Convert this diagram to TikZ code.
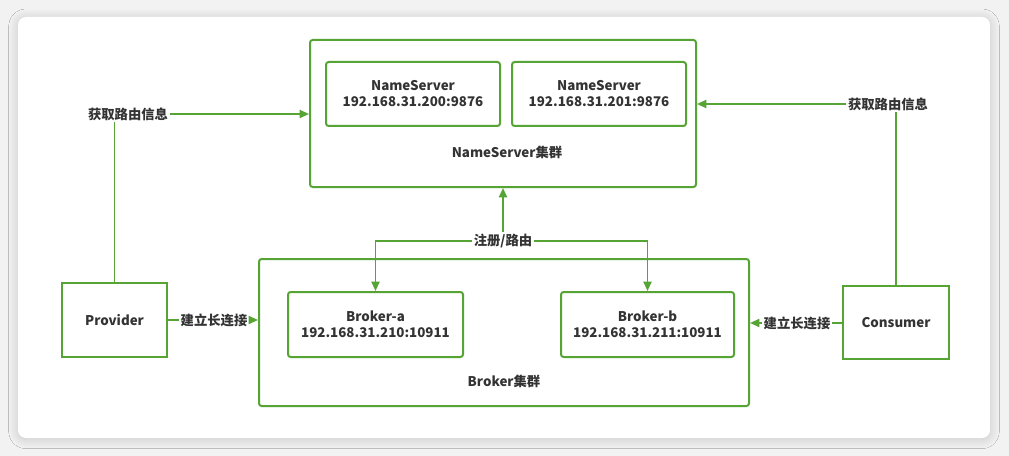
\documentclass[tikz,border=0pt]{standalone}
\usepackage{fontspec}
\setmainfont{Noto Sans CJK SC}
\usetikzlibrary{arrows.meta,shadows.blur}
\definecolor{gline}{RGB}{86,164,52}
\definecolor{txt}{RGB}{51,51,51}
\begin{document}
\begin{tikzpicture}[x=0.75pt,y=-0.75pt,
  lbl/.style={font=\bfseries\fontsize{10pt}{12pt}\selectfont,text=txt,align=center},
  box/.style={draw=gline,line width=1.5pt,rounded corners=2pt,lbl,inner sep=0pt},
  sq/.style={box,rounded corners=0pt},
  tag/.style={lbl,fill=white,inner sep=1pt},
  conn/.style={draw=gline,line width=1.4pt},
  arr/.style={conn,-{Triangle[length=7pt,width=6pt]}}]
\useasboundingbox (0,0) rectangle (1009,456);
\fill[black!5] (0,0) rectangle (1009,456);
\fill[white,rounded corners=6pt,blur shadow={shadow blur steps=12,shadow xshift=0pt,shadow yshift=-1pt,shadow blur radius=7pt,shadow opacity=18}] (18,17) rectangle (990,438);
% clusters
\node[box,minimum width=289.5pt,minimum height=110.25pt] (nsc) at (503,113.5) {};
\node[lbl] (nsl) at (507,152) {NameServer集群};
\node[box,minimum width=367.5pt,minimum height=110.25pt] (bc) at (504,332.5) {};
\node[lbl] (bl) at (504,381) {Broker集群};
% inner
\node[box,minimum width=130.5pt,minimum height=48pt] (ns1) at (413,94) {NameServer\\192.168.31.200:9876};
\node[box,minimum width=130.5pt,minimum height=48pt] (ns2) at (599,94) {NameServer\\192.168.31.201:9876};
\node[box,minimum width=131.25pt,minimum height=48.75pt] (ba) at (375.5,324.5) {Broker-a\\192.168.31.210:10911};
\node[box,minimum width=129.75pt,minimum height=48.75pt] (bb) at (647.5,324.5) {Broker-b\\192.168.31.211:10911};
% outer nodes
\node[sq,minimum width=78.75pt,minimum height=55.5pt] (prov) at (114.5,320) {Provider};
\node[sq,minimum width=79.5pt,minimum height=54.75pt] (cons) at (896,322.5) {Consumer};
% connectors
\node[tag] (l1) at (128,114) {获取路由信息};
\node[tag] (r1) at (888,104) {获取路由信息};
\draw[conn] (prov.north) -- (prov.north|-l1.south);
\draw[arr] (l1.east) -- (nsc.west|-l1.east);
\draw[conn] (cons.north) -- (cons.north|-r1.south);
\draw[arr] (r1.west) -- (nsc.east|-r1.west);
\node[tag] (l2) at (214,320) {建立长连接};
\draw[conn] (prov.east) -- (l2.west);
\draw[arr] (l2.east) -- (bc.west|-l2.east);
\node[tag] (r2) at (797,323) {建立长连接};
\draw[conn] (cons.west|-r2.east) -- (r2.east);
\draw[arr] (r2.west) -- (bc.east|-r2.west);
\node[tag] (reg) at (503,241) {注册/路由};
\draw[arr] (reg.north) -- (nsc.south);
\draw[arr] (reg.west) -| (ba.north);
\draw[arr] (reg.east) -| (bb.north);
\end{tikzpicture}
\end{document}
